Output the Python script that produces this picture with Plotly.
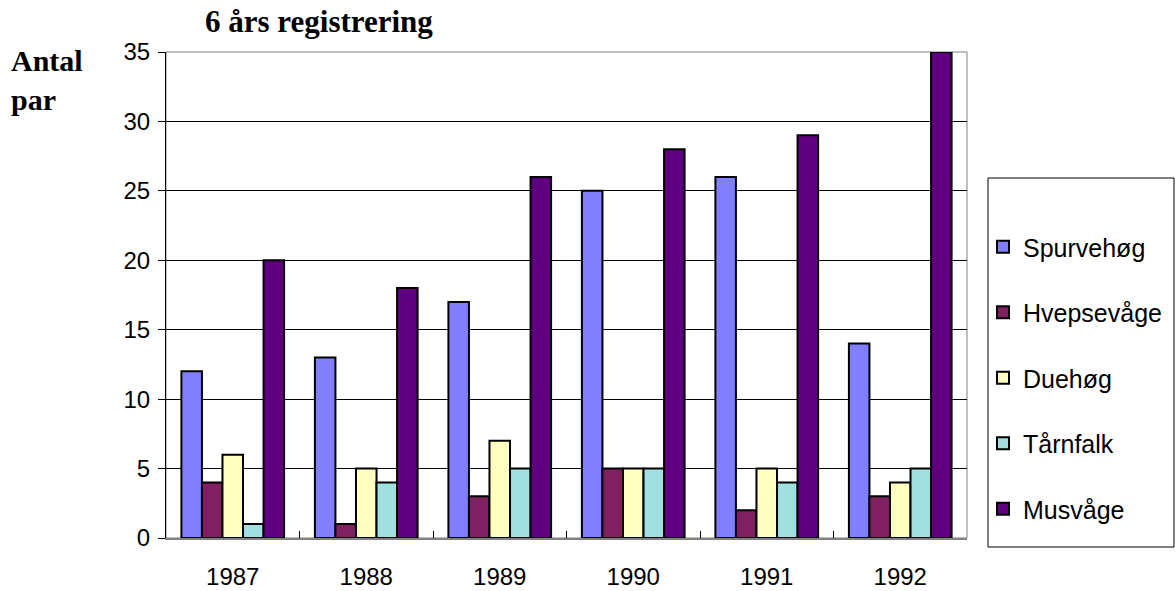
import plotly.graph_objects as go

years = ["1987", "1988", "1989", "1990", "1991", "1992"]
spurvehog = [12, 13, 17, 25, 26, 14]
hvepsevage = [4, 1, 3, 5, 2, 3]
duehog = [6, 5, 7, 5, 5, 4]
tarnfalk = [1, 4, 5, 5, 4, 5]
musvage = [20, 18, 26, 28, 29, 35]

series = [
    ("Spurvehøg", spurvehog, "#8080FF"),
    ("Hvepsevåge", hvepsevage, "#802060"),
    ("Duehøg", duehog, "#FFFFC0"),
    ("Tårnfalk", tarnfalk, "#A0E0E0"),
    ("Musvåge", musvage, "#600080"),
]

fig = go.Figure()
for name, vals, col in series:
    fig.add_trace(go.Bar(
        x=years, y=vals, name=name, legendgroup=name,
        marker=dict(color=col, line=dict(color="black", width=2)),
    ))

W, H = 1175, 591
L, T = 166, 52
PW, PH = 801, 486

def px(x):
    return (x - L) / PW

def py(y):
    return (T + PH - y) / PH

fig.update_layout(
    width=W, height=H,
    margin=dict(l=L, r=W - L - PW, t=T, b=H - T - PH, autoexpand=False),
    paper_bgcolor="white", plot_bgcolor="white",
    barmode="group", bargap=0.2308, bargroupgap=0,
    font=dict(family="Liberation Sans, Arial, sans-serif", size=24, color="black"),
    showlegend=True,
    legend=dict(
        x=px(983), xanchor="left", y=py(224), yanchor="top",
        borderwidth=0, bgcolor="rgba(0,0,0,0)",
        font=dict(size=25), tracegroupgap=30,
        itemwidth=30,
    ),
    xaxis=dict(
        type="category", showgrid=False, automargin=False,
        ticks="inside", tickson="boundaries", ticklen=7, tickcolor="black",
        showline=True, linecolor="#808080", linewidth=2,
        ticklabelstandoff=16,
    ),
    yaxis=dict(
        range=[0, 35], dtick=5, showgrid=True, gridcolor="black", gridwidth=1,
        automargin=False,
        ticks="outside", ticklen=7, tickcolor="black",
        showline=True, linecolor="black", linewidth=1,
        zeroline=False, ticklabelstandoff=3,
    ),
    annotations=[
        dict(text="<b>6 års registrering</b>", xref="paper", yref="paper",
             x=px(203), y=py(22), xanchor="left", yanchor="middle",
             showarrow=False,
             font=dict(family="Liberation Serif, Times New Roman, serif", size=31)),
        dict(text="<b>Antal<br>par</b>", xref="paper", yref="paper",
             x=px(9), y=py(42), xanchor="left", yanchor="top",
             align="left", showarrow=False,
             font=dict(family="Liberation Serif, Times New Roman, serif", size=30)),
    ],
    shapes=[
        dict(type="rect", xref="paper", yref="paper", x0=0, x1=1, y0=0, y1=1,
             line=dict(color="#808080", width=1), layer="below"),
        dict(type="rect", xref="paper", yref="paper",
             x0=px(988), x1=px(1174), y0=py(547), y1=py(178),
             line=dict(color="black", width=1), layer="below"),
    ],
)

fig.write_html(
    "out.html",
    config={"displayModeBar": False},
    post_script="document.body.style.margin='0';document.body.style.overflow='hidden';",
)
